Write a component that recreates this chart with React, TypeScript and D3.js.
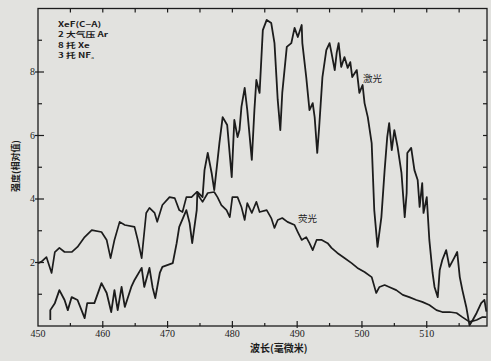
import React, { useRef, useEffect } from 'react';
import * as d3 from 'd3';

// laser (激光) spectrum, wavelength in nm / relative intensity
const laserWl = [
  451.9, 451.9, 452.6, 453.3, 454.1, 454.6, 455.2, 456.1, 457.2, 457.6, 458.7, 459.8, 460.6, 461.3,
  461.8, 462.3, 462.9, 463.4, 464.4, 464.9, 466.0, 466.4, 467.2, 467.7, 468.1, 468.8, 469.2, 470.8,
  471.4, 471.8, 472.9, 473.4, 473.8, 474.5, 474.6, 475.4, 475.7, 476.2, 476.8, 477.2, 477.6, 478.0,
  478.5, 479.2, 479.9, 480.3, 480.8, 481.1, 481.4, 481.9, 482.3, 483.0, 483.4, 483.7, 484.2, 484.7,
  485.3, 486.0, 486.5, 486.8, 487.0, 487.4, 487.7, 488.4, 489.1, 489.6, 490.1, 490.7, 490.8, 491.4,
  491.9, 492.4, 492.7, 493.1, 493.4, 493.9, 494.5, 495.0, 495.3, 495.8, 496.1, 496.4, 496.8, 497.3,
  497.8, 498.2, 498.5, 499.2, 499.6, 500.1, 500.4, 500.9, 501.5, 501.9, 502.4, 503.0, 503.5, 503.9,
  504.2, 504.6, 505.0, 505.5, 506.1, 506.6, 506.9, 507.0, 507.6, 508.1, 508.6, 508.9, 509.3, 509.5,
  510.0, 510.4, 510.9, 511.2, 511.7, 512.0, 512.4, 513.0, 513.5, 514.3, 514.7, 515.1, 515.5, 516.1,
  516.6, 517.1, 517.7, 518.4, 518.9, 519.2
];
const laserVal = [
  0.19, 0.50, 0.72, 1.13, 0.82, 0.50, 0.91, 0.82, 0.25, 0.72, 0.72, 1.35, 1.04, 0.44,
  1.13, 0.50, 1.23, 0.60, 1.23, 1.45, 1.83, 1.23, 1.83, 1.20, 0.88, 1.67, 1.86, 1.98,
  2.61, 3.12, 3.65, 3.24, 2.61, 3.65, 4.22, 4.06, 4.91, 5.45, 4.82, 4.28, 5.01, 5.76,
  6.58, 6.33, 4.69, 6.49, 5.95, 6.17, 6.90, 7.50, 6.80, 5.23, 6.80, 7.75, 7.34, 9.32,
  9.64, 9.54, 8.91, 7.84, 7.12, 6.17, 7.34, 8.79, 8.91, 9.39, 9.10, 9.48, 8.91, 7.84,
  6.80, 7.02, 6.58, 5.45, 6.27, 7.84, 8.69, 8.91, 8.60, 8.06, 8.60, 8.91, 8.16, 8.47,
  8.13, 8.31, 7.84, 8.06, 7.34, 7.59, 7.02, 6.58, 5.76, 3.65, 2.49, 3.43, 4.91, 5.95,
  6.39, 5.54, 6.17, 5.64, 4.82, 3.43, 4.19, 5.45, 5.61, 4.91, 4.60, 3.75, 4.50, 3.56,
  4.06, 2.71, 1.67, 1.23, 0.91, 1.76, 2.08, 2.39, 1.86, 2.17, 2.33, 1.54, 1.13, 0.60,
  0.02, 0.19, 0.41, 0.72, 0.82, 0.45
];

// fluorescence (荧光) spectrum
const fluorWl = [
  450.0, 450.5, 451.3, 452.1, 452.6, 453.3, 454.1, 455.2, 456.1, 457.2, 458.3, 459.8, 460.6, 461.2,
  461.8, 462.6, 463.4, 464.9, 465.4, 466.0, 466.7, 467.2, 468.0, 468.4, 469.2, 470.3, 471.1, 471.8,
  472.3, 472.9, 473.7, 474.5, 474.9, 475.4, 476.2, 477.2, 477.7, 478.3, 479.1, 479.6, 480.0, 480.8,
  481.4, 481.9, 482.3, 483.0, 483.7, 484.2, 485.3, 486.0, 486.5, 487.0, 487.7, 488.5, 489.6, 490.1,
  490.7, 491.4, 491.9, 492.4, 493.0, 493.8, 494.7, 495.3, 496.2, 497.3, 498.4, 499.3, 500.4, 501.5,
  502.2, 502.7, 503.5, 504.2, 505.3, 506.3, 507.3, 508.4, 509.3, 510.4, 511.5, 512.4, 513.5, 514.6,
  515.5, 516.6, 517.7, 518.6, 519.2
];
const fluorVal = [
  1.98, 2.02, 2.17, 1.67, 2.33, 2.46, 2.33, 2.33, 2.49, 2.80, 3.02, 2.96, 2.71, 2.14,
  2.71, 3.28, 3.18, 3.12, 2.71, 2.14, 3.56, 3.72, 3.56, 3.28, 3.81, 4.06, 4.03, 3.65,
  3.59, 4.06, 4.06, 4.22, 4.06, 3.91, 4.19, 4.22, 4.06, 3.81, 3.65, 3.43, 4.06, 4.06,
  3.75, 3.34, 3.87, 3.56, 3.91, 3.59, 3.65, 3.40, 3.09, 3.34, 3.40, 3.28, 3.18, 2.96,
  2.71, 2.80, 2.61, 2.39, 2.71, 2.71, 2.61, 2.46, 2.30, 2.14, 1.98, 1.83, 1.70, 1.54,
  1.04, 1.23, 1.29, 1.23, 1.13, 0.98, 0.91, 0.82, 0.76, 0.66, 0.50, 0.44, 0.44, 0.41,
  0.28, 0.13, 0.19, 0.28, 0.28
];

const xTickLabels = [450, 460, 470, 480, 490, 500, 510];
const yTickLabels = [2, 4, 6, 8];
const legendLines = ['XeF(C−A)', '2 大气压 Ar', '8 托 Xe', '3 托 NF₃'];

const App = () => {
  const svgRef = useRef<SVGSVGElement>(null);
  const width = 491;
  const height = 361;

  useEffect(() => {
    const svg = d3.select(svgRef.current);
    svg.selectAll('*').remove();

    const left = 38, right = 487, top = 8.5, bottom = 326;
    const x = d3.scaleLinear().domain([450, 519.3]).range([left, right]);
    const y = d3.scaleLinear().domain([0, 10]).range([bottom, top]);
    const ink = '#1c1c1c';

    svg.append('rect').attr('width', width).attr('height', height).attr('fill', '#e2e2df');

    // frame
    svg.append('rect')
      .attr('x', left).attr('y', top)
      .attr('width', right - left).attr('height', bottom - top)
      .attr('fill', 'none').attr('stroke', ink).attr('stroke-width', 1.3);

    // bottom + top ticks every 5 nm
    const nmTicks = d3.range(455, 519, 5);
    nmTicks.forEach(t => {
      const major = t % 10 === 0;
      svg.append('line')
        .attr('x1', x(t)).attr('x2', x(t))
        .attr('y1', bottom + (major ? 2 : 0)).attr('y2', bottom - (major ? 5 : 3))
        .attr('stroke', ink).attr('stroke-width', 1.2);
      svg.append('line')
        .attr('x1', x(t)).attr('x2', x(t))
        .attr('y1', top).attr('y2', top + 4)
        .attr('stroke', ink).attr('stroke-width', 1.2);
    });

    // left + right ticks every unit
    d3.range(1, 10).forEach(v => {
      const major = v % 2 === 0;
      svg.append('line')
        .attr('x1', left - (major ? 3 : 0)).attr('x2', left + (major ? 6 : 4))
        .attr('y1', y(v)).attr('y2', y(v))
        .attr('stroke', ink).attr('stroke-width', 1.2);
      svg.append('line')
        .attr('x1', right).attr('x2', right - 4)
        .attr('y1', y(v)).attr('y2', y(v))
        .attr('stroke', ink).attr('stroke-width', 1.2);
    });

    svg.append('g').selectAll('text')
      .data(xTickLabels).enter().append('text')
      .attr('x', d => x(d)).attr('y', bottom + 11)
      .attr('text-anchor', 'middle')
      .attr('font-family', 'Liberation Serif, serif').attr('font-size', 10)
      .attr('fill', ink)
      .text(d => d);

    svg.append('g').selectAll('text')
      .data(yTickLabels).enter().append('text')
      .attr('x', left - 3).attr('y', d => y(d) + 3)
      .attr('text-anchor', 'end')
      .attr('font-family', 'Liberation Serif, serif').attr('font-size', 10)
      .attr('fill', ink)
      .text(d => d);

    const line = d3.line<[number, number]>()
      .x(d => x(d[0])).y(d => y(d[1]));

    svg.append('path')
      .attr('d', line(fluorWl.map((w, i) => [w, fluorVal[i]])))
      .attr('fill', 'none').attr('stroke', ink).attr('stroke-width', 1.7)
      .attr('stroke-linejoin', 'round');

    svg.append('path')
      .attr('d', line(laserWl.map((w, i) => [w, laserVal[i]])))
      .attr('fill', 'none').attr('stroke', ink).attr('stroke-width', 1.8)
      .attr('stroke-linejoin', 'round');

    const cjk = '"Noto Sans CJK SC", "Liberation Serif", serif';

    // legend block (slightly widened glyphs, as in the print)
    svg.append('g').selectAll('text')
      .data(legendLines).enter().append('text')
      .attr('transform', (d, i) => `translate(58, ${27 + i * 10.3}) scale(1.4, 1)`)
      .attr('font-family', cjk).attr('font-size', 7).attr('font-weight', 'bold').attr('fill', ink)
      .text(d => d);

    // curve labels
    svg.append('text')
      .attr('x', 363).attr('y', 82)
      .attr('font-family', cjk).attr('font-size', 9.5).attr('fill', ink)
      .text('激光');
    svg.append('text')
      .attr('x', 298).attr('y', 222)
      .attr('font-family', cjk).attr('font-size', 9.5).attr('fill', ink)
      .text('荧光');

    // axis labels
    svg.append('text')
      .attr('x', 250).attr('y', 352)
      .attr('font-family', cjk).attr('font-size', 10).attr('font-weight', 'bold').attr('fill', ink)
      .text('波长(毫微米)');
    svg.append('text')
      .attr('transform', `translate(19, 166) rotate(-90)`)
      .attr('text-anchor', 'middle')
      .attr('font-family', cjk).attr('font-size', 9).attr('font-weight', 'bold').attr('fill', ink)
      .text('强度(相对值)');
  }, []);

  return (
    <svg ref={svgRef} width={width} height={height}
      style={{ position: 'absolute', left: 0, top: 0, display: 'block' }} />
  );
};

export default App;
